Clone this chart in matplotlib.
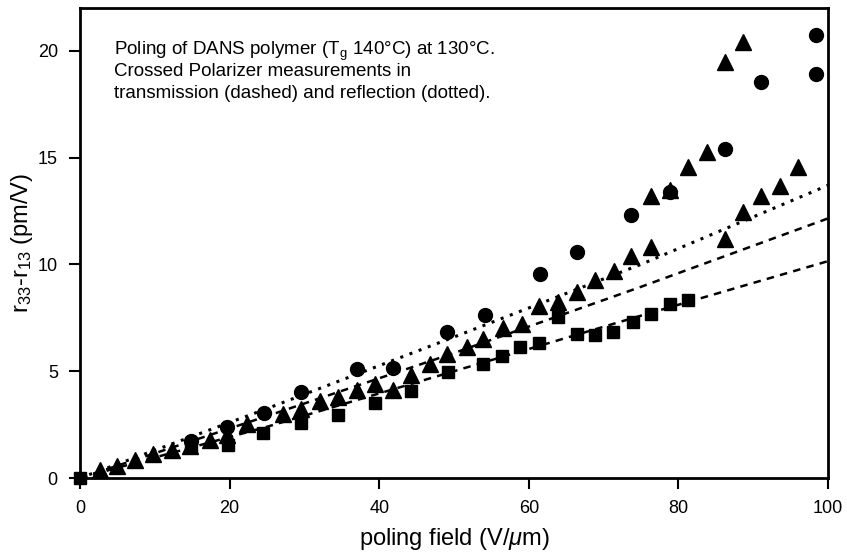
import matplotlib
matplotlib.use("Agg")
from matplotlib import pyplot as plt

plt.rcParams['font.family'] = ['Liberation Sans', 'DejaVu Sans']
plt.rcParams['mathtext.fontset'] = 'custom'
plt.rcParams['mathtext.rm'] = 'Liberation Sans'
plt.rcParams['mathtext.it'] = 'Liberation Sans:italic'

# circles (reflection data)
circ_x = [14.9, 19.6, 24.6, 29.6, 37.0, 41.9, 49.1, 54.1, 61.5, 66.4, 73.7, 78.9, 86.2, 91.1, 98.4, 98.4]
circ_y = [1.75, 2.4, 3.05, 4.03, 5.08, 5.17, 6.84, 7.62, 9.53, 10.57, 12.29, 13.4, 15.4, 18.55, 20.73, 18.91]

# triangles
tri_x = [2.7, 4.9, 7.4, 9.8, 12.3, 14.7, 17.4, 19.6, 22.3, 27.2, 29.6, 32.1, 34.5, 37.0, 39.4, 41.9,
         44.3, 46.8, 49.1, 51.7, 53.9, 56.6, 59.1, 61.3, 63.9, 66.4, 68.9, 71.4, 73.7, 76.4, 76.4,
         78.9, 81.3, 83.8, 86.2, 86.2, 88.7, 88.7, 91.1, 93.6, 96.0]
tri_y = [0.37, 0.56, 0.84, 1.12, 1.31, 1.5, 1.78, 2.0, 2.55, 2.99, 3.25, 3.6, 3.8, 4.14, 4.39, 4.11,
         4.81, 5.33, 5.79, 6.14, 6.53, 7.02, 7.2, 8.04, 8.24, 8.71, 9.25, 9.67, 10.38, 10.81, 13.22,
         13.46, 14.55, 15.26, 11.2, 19.45, 12.44, 20.42, 13.22, 13.69, 14.55]

# squares (transmission data)
sq_x = [0.0, 14.9, 19.8, 24.5, 29.6, 34.5, 39.4, 44.3, 49.2, 53.9, 56.4, 58.8, 61.3, 63.9, 66.4,
        68.9, 71.3, 74.0, 76.4, 78.9, 81.3]
sq_y = [0.0, 1.45, 1.54, 2.1, 2.58, 2.94, 3.49, 4.08, 4.97, 5.36, 5.7, 6.14, 6.32, 7.54, 6.73,
        6.68, 6.84, 7.3, 7.69, 8.16, 8.32]

# fit lines
line_x = [0, 25, 50, 75, 100]
dotted_y = [0, 3.25, 6.6, 10.0, 13.7]
dashed_hi_y = [0, 2.9, 5.85, 8.95, 12.15]
dashed_lo_y = [0, 2.4, 5.0, 7.6, 10.15]

note_lines = ['Poling of DANS polymer (T$_{\\mathrm{g}}$ 140°C) at 130°C.',
              'Crossed Polarizer measurements in',
              'transmission (dashed) and reflection (dotted).']

fig = plt.figure(figsize=(8.47, 5.52), dpi=100)
ax = fig.add_axes([0.0945, 0.134, 0.883, 0.8515])

ax.plot(line_x, dotted_y, color='black', linestyle=(0, (1, 2.2)), linewidth=2.2)
ax.plot(line_x, dashed_hi_y, color='black', linestyle=(0, (3, 2.5)), linewidth=1.8)
ax.plot(line_x, dashed_lo_y, color='black', linestyle=(0, (3, 2.5)), linewidth=1.8)

ax.plot(circ_x, circ_y, 'o', color='black', markersize=10, clip_on=False)
ax.plot(tri_x, tri_y, '^', color='black', markersize=11, clip_on=False)
ax.plot(sq_x, sq_y, 's', color='black', markersize=8.5, clip_on=False)

ax.set_xlim(0, 100)
ax.set_ylim(0, 22)
ax.set_xticks([0, 20, 40, 60, 80, 100])
ax.set_yticks([0, 5, 10, 15, 20])
ax.tick_params(direction='out', length=8, width=1.5, labelsize=13, top=False, right=False, pad=8)
for s in ax.spines.values():
    s.set_linewidth(2)

ax.set_xlabel('poling field (V/$\\mu$m)', fontsize=17, labelpad=6)
ax.set_ylabel('r$_{33}$-r$_{13}$ (pm/V)', fontsize=17, labelpad=2)

for i, t in enumerate(note_lines):
    ax.text(4.6, 19.8 - i * 1.0, t, fontsize=13.5, va='baseline', ha='left')

fig.savefig('out.png', dpi=100)
